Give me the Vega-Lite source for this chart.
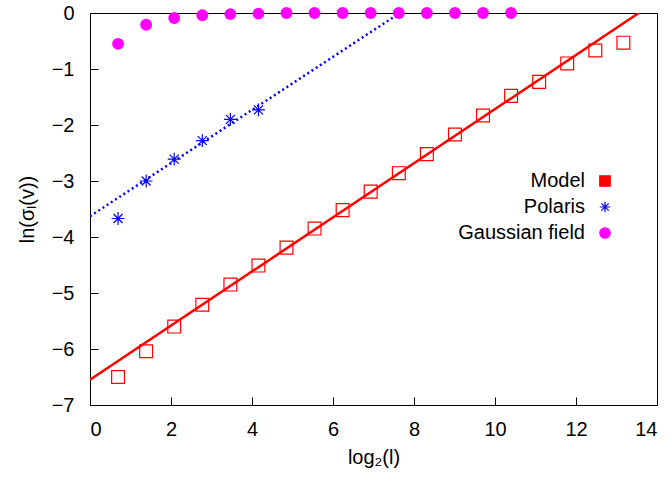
{
  "$schema": "https://vega.github.io/schema/vega-lite/v6.json",
  "width": 567,
  "height": 392,
  "autosize": "none",
  "padding": {"left": 90, "top": 13, "right": 15, "bottom": 74},
  "background": "white",
  "config": {
    "font": "Liberation Sans",
    "view": {"stroke": "black", "strokeWidth": 1},
    "axis": {"grid": false, "domain": false, "tickColor": "black", "tickSize": -8, "labelFontSize": 20, "labelColor": "black", "titleFontSize": 20, "titleFontWeight": "normal", "titleColor": "black", "labelFont": "Liberation Sans", "titleFont": "Liberation Sans"}
  },
  "datasets": {
    "pts": [
      {"series": "Model", "x": 0.693, "y": -6.5},
      {"series": "Model", "x": 1.386, "y": -6.04},
      {"series": "Model", "x": 2.079, "y": -5.6},
      {"series": "Model", "x": 2.773, "y": -5.21},
      {"series": "Model", "x": 3.466, "y": -4.85},
      {"series": "Model", "x": 4.159, "y": -4.51},
      {"series": "Model", "x": 4.852, "y": -4.19},
      {"series": "Model", "x": 5.545, "y": -3.85},
      {"series": "Model", "x": 6.238, "y": -3.52},
      {"series": "Model", "x": 6.931, "y": -3.19},
      {"series": "Model", "x": 7.625, "y": -2.86},
      {"series": "Model", "x": 8.318, "y": -2.52},
      {"series": "Model", "x": 9.011, "y": -2.17},
      {"series": "Model", "x": 9.704, "y": -1.83},
      {"series": "Model", "x": 10.397, "y": -1.48},
      {"series": "Model", "x": 11.09, "y": -1.23},
      {"series": "Model", "x": 11.783, "y": -0.9},
      {"series": "Model", "x": 12.477, "y": -0.67},
      {"series": "Model", "x": 13.17, "y": -0.53},
      {"series": "Polaris", "x": 0.693, "y": -3.67},
      {"series": "Polaris", "x": 1.386, "y": -3.0},
      {"series": "Polaris", "x": 2.079, "y": -2.61},
      {"series": "Polaris", "x": 2.773, "y": -2.28},
      {"series": "Polaris", "x": 3.466, "y": -1.9},
      {"series": "Polaris", "x": 4.159, "y": -1.73},
      {"series": "Gaussian field", "x": 0.693, "y": -0.55},
      {"series": "Gaussian field", "x": 1.386, "y": -0.21},
      {"series": "Gaussian field", "x": 2.079, "y": -0.09},
      {"series": "Gaussian field", "x": 2.773, "y": -0.04},
      {"series": "Gaussian field", "x": 3.466, "y": -0.02},
      {"series": "Gaussian field", "x": 4.159, "y": -0.01},
      {"series": "Gaussian field", "x": 4.852, "y": 0},
      {"series": "Gaussian field", "x": 5.545, "y": 0},
      {"series": "Gaussian field", "x": 6.238, "y": 0},
      {"series": "Gaussian field", "x": 6.931, "y": 0},
      {"series": "Gaussian field", "x": 7.625, "y": 0},
      {"series": "Gaussian field", "x": 8.318, "y": 0},
      {"series": "Gaussian field", "x": 9.011, "y": 0},
      {"series": "Gaussian field", "x": 9.704, "y": 0},
      {"series": "Gaussian field", "x": 10.397, "y": 0}
    ],
    "fits": [
      {"series": "Model", "x": 0, "y": -6.55},
      {"series": "Model", "x": 13.55, "y": 0},
      {"series": "Polaris", "x": 0, "y": -3.63},
      {"series": "Polaris", "x": 7.65, "y": 0}
    ]
  },
  "layer": [
    {
      "data": {"name": "fits"},
      "transform": [{"filter": "datum.series === 'Model'"}],
      "mark": {"type": "line", "color": "#ff0000", "strokeWidth": 2.5, "clip": true},
      "encoding": {
        "x": {"field": "x", "type": "quantitative", "scale": {"domain": [0, 14], "nice": false}, "axis": {"title": "log₂(l)", "values": [0, 2, 4, 6, 8, 10, 12, 14], "format": "d", "titlePadding": 8, "labelPadding": 22}},
        "y": {"field": "y", "type": "quantitative", "scale": {"domain": [-7, 0], "nice": false}, "axis": {"title": "ln(σₗ(v))", "values": [-7, -6, -5, -4, -3, -2, -1, 0], "format": "d", "titlePadding": 14, "labelPadding": 24}}
      }
    },
    {
      "data": {"name": "fits"},
      "transform": [{"filter": "datum.series === 'Polaris'"}],
      "mark": {"type": "line", "color": "#0000ff", "strokeWidth": 2.5, "strokeDash": [2, 3], "clip": true},
      "encoding": {
        "x": {"field": "x", "type": "quantitative"},
        "y": {"field": "y", "type": "quantitative"}
      }
    },
    {
      "data": {"name": "pts"},
      "transform": [{"filter": "datum.series !== 'Gaussian field'"}],
      "mark": {"type": "point", "strokeWidth": 1.2, "opacity": 1, "size": 165, "filled": false},
      "encoding": {
        "x": {"field": "x", "type": "quantitative"},
        "y": {"field": "y", "type": "quantitative"},
        "shape": {"field": "series", "type": "nominal", "scale": {"domain": ["Model", "Polaris", "Gaussian field"], "range": ["square", "M-1,0L1,0M0,-1L0,1M-0.7,-0.7L0.7,0.7M-0.7,0.7L0.7,-0.7", "circle"]}, "legend": {"title": null, "orient": "none", "legendX": 505, "legendY": 158, "padding": 0, "rowPadding": 6, "labelFontSize": 20, "labelAlign": "right", "labelOffset": -30, "symbolSize": 110, "symbolStrokeWidth": 1.2, "encode": {"labels": {"update": {"fill": {"signal": "datum.value === 'Model' ? '#ff0000' : datum.value === 'Polaris' ? '#0000ff' : '#ff00ff'"}}}, "symbols": {"update": {"fill": {"signal": "datum.value === 'Gaussian field' ? '#ff00ff' : 'transparent'"}}}}}},
        "color": {"field": "series", "type": "nominal", "scale": {"domain": ["Model", "Polaris", "Gaussian field"], "range": ["#ff0000", "#0000ff", "#ff00ff"]}, "legend": {"title": null, "orient": "none", "legendX": 505, "legendY": 158}}
      }
    },
    {
      "data": {"name": "pts"},
      "transform": [{"filter": "datum.series === 'Gaussian field'"}],
      "mark": {"type": "point", "filled": true, "opacity": 1, "size": 140},
      "encoding": {
        "x": {"field": "x", "type": "quantitative"},
        "y": {"field": "y", "type": "quantitative"},
        "shape": {"field": "series", "type": "nominal"},
        "color": {"field": "series", "type": "nominal"}
      }
    }
  ]
}
